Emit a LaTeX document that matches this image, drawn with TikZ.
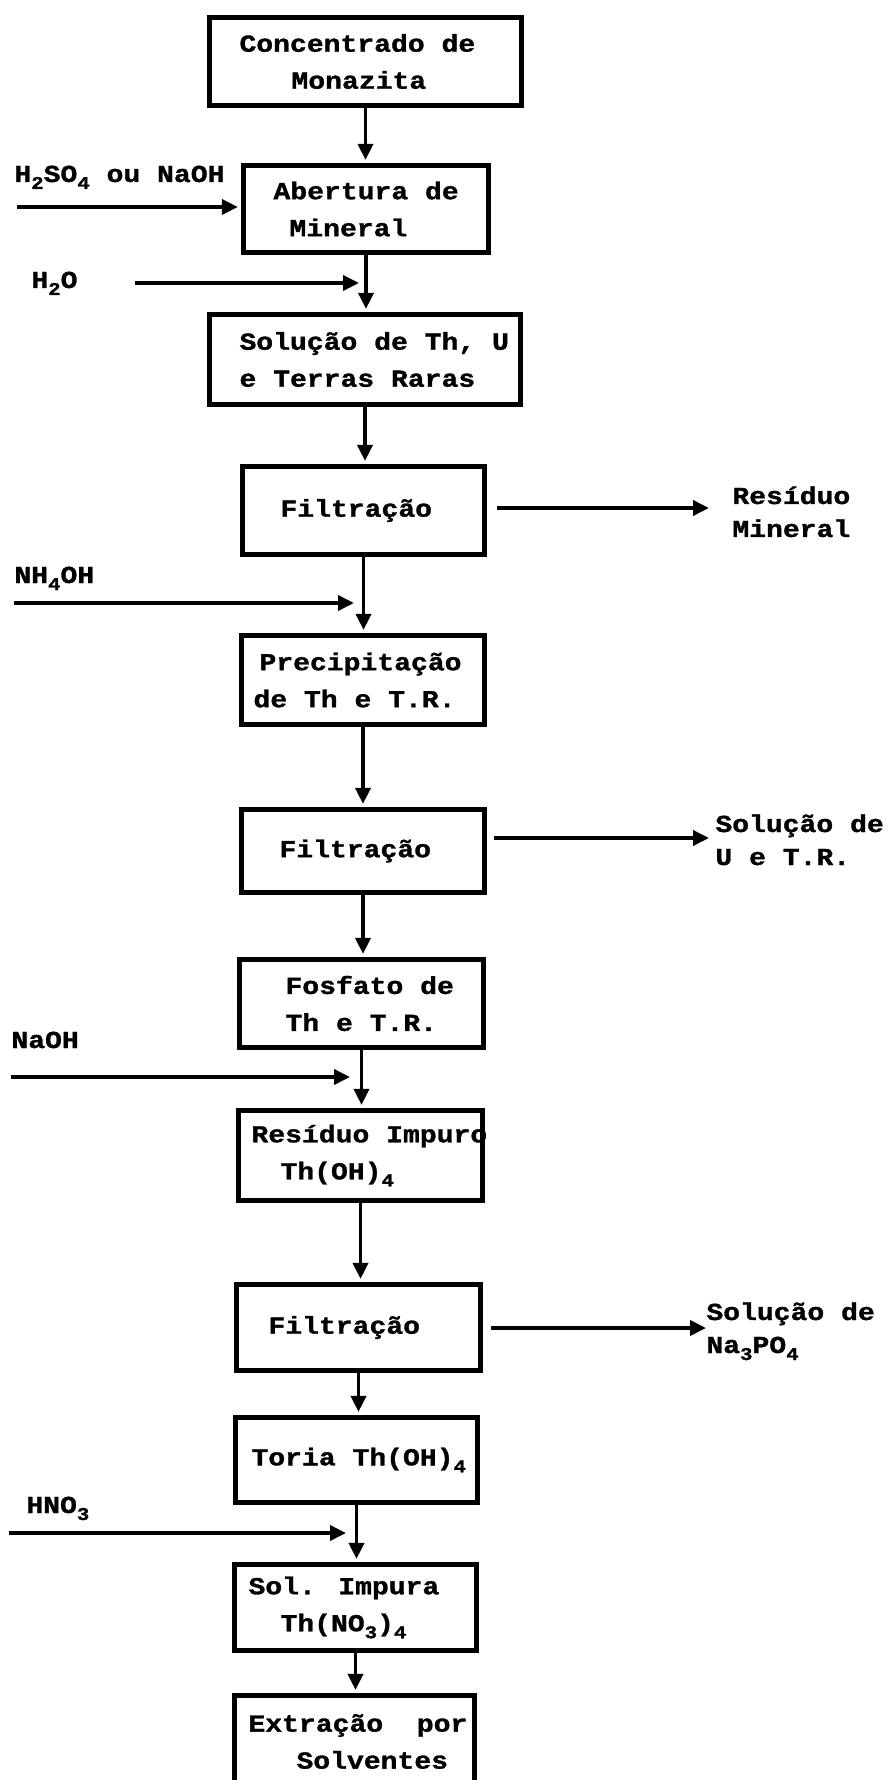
\documentclass[tikz,border=0pt]{standalone}
\usepackage{fontspec}
\setmainfont{Liberation Mono}[FakeStretch=1.15, BoldFeatures={FakeBold=1.2}]
\usetikzlibrary{arrows.meta}
\newcommand\sbs[1]{\raisebox{-3.5pt}{\fontsize{9}{9}\selectfont #1}}
\begin{document}
\begin{tikzpicture}[x=0.5pt, y=-0.5pt,
  every node/.style={font=\bfseries\fontsize{12.2}{18.5}\selectfont},
  box/.style={draw, line width=2.8pt, rectangle, inner xsep=6pt, inner ysep=0pt, align=left,
    execute at begin node={\spaceskip=0pt \xspaceskip=0pt}},
  arr/.style={line width=1.8pt, -{Triangle[length=8pt,width=7.5pt]}},
  lbl/.style={inner sep=0pt, align=left, anchor=base west},
  rlbl/.style={lbl, font=\bfseries\fontsize{12.2}{16.5}\selectfont}]
\fill[white] (0,0) rectangle (892,1780);
\useasboundingbox (0,0) rectangle (892,1780);

% process boxes
\node[box, minimum width=156pt, minimum height=44pt, text width=144pt] (b1) at (365.5,61.5)
  {\hspace*{9pt}\mbox{Concentrado de}\\\hspace*{35pt}Monazita};
\node[box, minimum width=122.5pt, minimum height=43.5pt, text width=110.5pt] (b2) at (366,209)
  {\hspace*{9pt}\mbox{Abertura de}\\\hspace*{17pt}Mineral};
\node[box, minimum width=155.5pt, minimum height=45pt, text width=143.5pt] (b3) at (365,359.5)
  {\hspace*{9pt}\mbox{Solução de Th, U}\\\hspace*{9pt}\mbox{e Terras Raras}};
\node[box, minimum width=121pt, minimum height=44pt, text width=109pt] (f1) at (363.5,510.5)
  {\hspace*{13pt}Filtração};
\node[box, minimum width=121.5pt, minimum height=44.5pt, text width=109.5pt] (pr) at (363,680)
  {\hspace*{3pt}\mbox{Precipitação}\\\mbox{de Th e T.R.}};
\node[box, minimum width=121.5pt, minimum height=41.5pt, text width=109.5pt] (f2) at (363,851)
  {\hspace*{13pt}Filtração};
\node[box, minimum width=122pt, minimum height=44pt, text width=110pt] (fo) at (361.5,1003.5)
  {\hspace*{17pt}\mbox{Fosfato de}\\\hspace*{17pt}\mbox{Th e T.R.}};
\node[box, minimum width=122pt, minimum height=45pt, text width=110pt] (ri) at (360.5,1155.5)
  {\hspace*{0.5pt}\mbox{Resíduo Impuro}\\\hspace*{15pt}\mbox{Th(OH)\sbs{4}}};
\node[box, minimum width=122pt, minimum height=43pt, text width=110pt] (f3) at (358.5,1327.5)
  {\hspace*{10pt}Filtração};
\node[box, minimum width=121pt, minimum height=42.5pt, text width=109pt] (to) at (356.5,1460)
  {\hspace*{2pt}\mbox{Toria Th(OH)\sbs{4}}};
\node[box, minimum width=121pt, minimum height=43pt, text width=109pt] (si) at (355.5,1607.5)
  {\hspace*{1pt}\mbox{Sol. Impura}\\\hspace*{17pt}\mbox{Th(NO\sbs{3})\sbs{4}}};
\node[box, minimum width=120pt, minimum height=46pt, text width=108pt] (ex) at (354.5,1741.5)
  {\hspace*{1pt}\mbox{Extração\ \ por}\\\hspace*{25pt}Solventes};

% side labels
\node[lbl] (lA) at (14,182) {H\sbs{2}SO\sbs{4} ou NaOH};
\node[lbl] (lB) at (31,288) {H\sbs{2}O};
\node[lbl] (lC) at (14,583) {NH\sbs{4}OH};
\node[lbl] (lD) at (11,1048) {NaOH};
\node[lbl] (lE) at (26,1513) {HNO\sbs{3}};
\node[rlbl] (rA) at (732,537) {Resíduo\\Mineral};
\node[rlbl] (rB) at (715,865) {Solução de\\U e T.R.};
\node[rlbl] (rC) at (706,1353) {Solução de\\Na\sbs{3}PO\sbs{4}};

% main flow
\draw[arr, shorten >=1.4pt] (b1.south) -- (b1.south |- b2.north);
\draw[arr, shorten >=1.4pt] (b2.south) -- (b2.south |- b3.north);
\draw[arr, shorten >=1.4pt] (b3.south) -- (b3.south |- f1.north);
\draw[arr, shorten >=1.4pt] (f1.south) -- (f1.south |- pr.north);
\draw[arr, shorten >=1.4pt] (pr.south) -- (pr.south |- f2.north);
\draw[arr, shorten >=1.4pt] (f2.south) -- (f2.south |- fo.north);
\draw[arr, shorten >=1.4pt] (fo.south) -- (fo.south |- ri.north);
\draw[arr, shorten >=1.4pt] (ri.south) -- (ri.south |- f3.north);
\draw[arr, shorten >=1.4pt] (f3.south) -- (f3.south |- to.north);
\draw[arr, shorten >=1.4pt] (to.south) -- (to.south |- si.north);
\draw[arr, shorten >=1.4pt] (si.south) -- (si.south |- ex.north);

% feeds
\coordinate (iA) at (17,207);
\coordinate (iB) at (135,283);
\coordinate (iC) at (14,603);
\coordinate (iD) at (11,1077);
\coordinate (iE) at (9,1533);
\draw[arr, shorten >=1.4pt] (iA) -- (iA -| b2.west);
\draw[arr, shorten >=3.5pt] (iB) -- (iB -| b2.south);
\draw[arr, shorten >=4.75pt] (iC) -- (iC -| f1.south);
\draw[arr, shorten >=5.75pt] (iD) -- (iD -| fo.south);
\draw[arr, shorten >=5.25pt] (iE) -- (iE -| to.south);

% outputs
\coordinate (oA) at (709,508);
\coordinate (oB) at (709,838);
\coordinate (oC) at (706,1328);
\draw[arr, shorten <=4.75pt] (f1.east |- oA) -- (oA);
\draw[arr, shorten <=3.25pt] (f2.east |- oB) -- (oB);
\draw[arr, shorten <=3.75pt] (f3.east |- oC) -- (oC);
\end{tikzpicture}
\end{document}
